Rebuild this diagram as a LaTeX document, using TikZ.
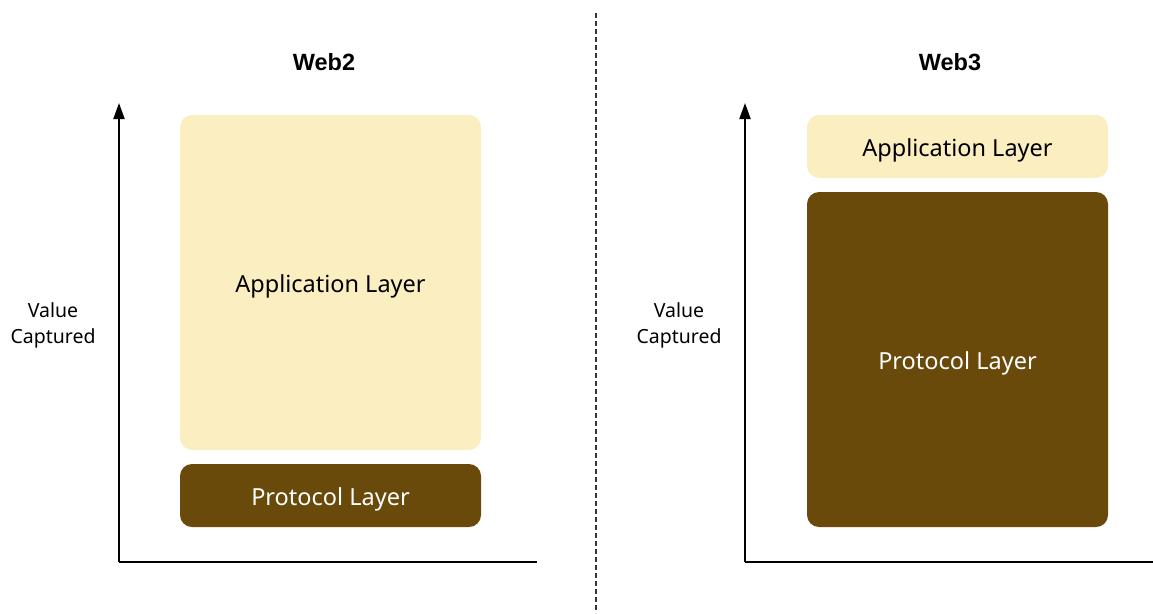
\documentclass[tikz,border=0pt]{standalone}
\usepackage{fontspec}
\setmainfont{Noto Sans}
\newfontfamily\headfont{Liberation Sans}
\usetikzlibrary{arrows.meta}
\definecolor{appfill}{RGB}{251,238,193}
\definecolor{protofill}{RGB}{106,74,11}
\begin{document}
\begin{tikzpicture}[x=1pt,y=-1pt,
  axis/.style={line width=2.2pt,-{Triangle[length=16pt,width=11pt]}},
  base/.style={line width=2.2pt},
  layer/.style={rounded corners=12pt,inner sep=0pt},
  applayer/.style={layer,fill=appfill},
  protolayer/.style={layer,fill=protofill},
  layertext/.style={font=\fontsize{23.5}{28}\selectfont,yshift=-3.5pt},
  ylabel/.style={align=center,font=\fontsize{19.5}{26}\selectfont},
  title/.style={font=\headfont\bfseries\fontsize{23.5}{28}\selectfont}
]
\useasboundingbox (0,0) rectangle (1153,613);

% divider between the two panels
\draw[line width=1.3pt,dash pattern=on 5pt off 3pt,gray!40!black] (596,13) -- (596,613);

% ---- Web2 ----
\node[title] (t2) at (324,62) {Web2};
\coordinate (o2) at (119,562);
\coordinate (y2) at (119,103);
\coordinate (x2) at (537,562);
\draw[axis] (o2) -- (y2);
\draw[base] (o2) -- (x2);
\node[ylabel] (v2) at (53,325) {Value\\Captured};
\node[applayer,minimum width=301pt,minimum height=335pt] (a2) at (330.5,282.5) {};
\node[layertext,text=black] (a2t) at (a2.center) {Application Layer};
\node[protolayer,minimum width=301pt,minimum height=63pt] (p2) at (330.5,495.5) {};
\node[layertext,text=white] (p2t) at (p2.center) {Protocol Layer};

% ---- Web3 ----
\node[title] (t3) at (950,62) {Web3};
\coordinate (o3) at (745,562);
\coordinate (y3) at (745,103);
\coordinate (x3) at (1153,562);
\draw[axis] (o3) -- (y3);
\draw[base] (o3) -- (x3);
\node[ylabel] (v3) at (679,325) {Value\\Captured};
\node[applayer,minimum width=301pt,minimum height=63pt] (a3) at (957.5,146.5) {};
\node[layertext,text=black] (a3t) at (a3.center) {Application Layer};
\node[protolayer,minimum width=301pt,minimum height=335pt] (p3) at (957.5,359.5) {};
\node[layertext,text=white] (p3t) at (p3.center) {Protocol Layer};
\end{tikzpicture}
\end{document}
